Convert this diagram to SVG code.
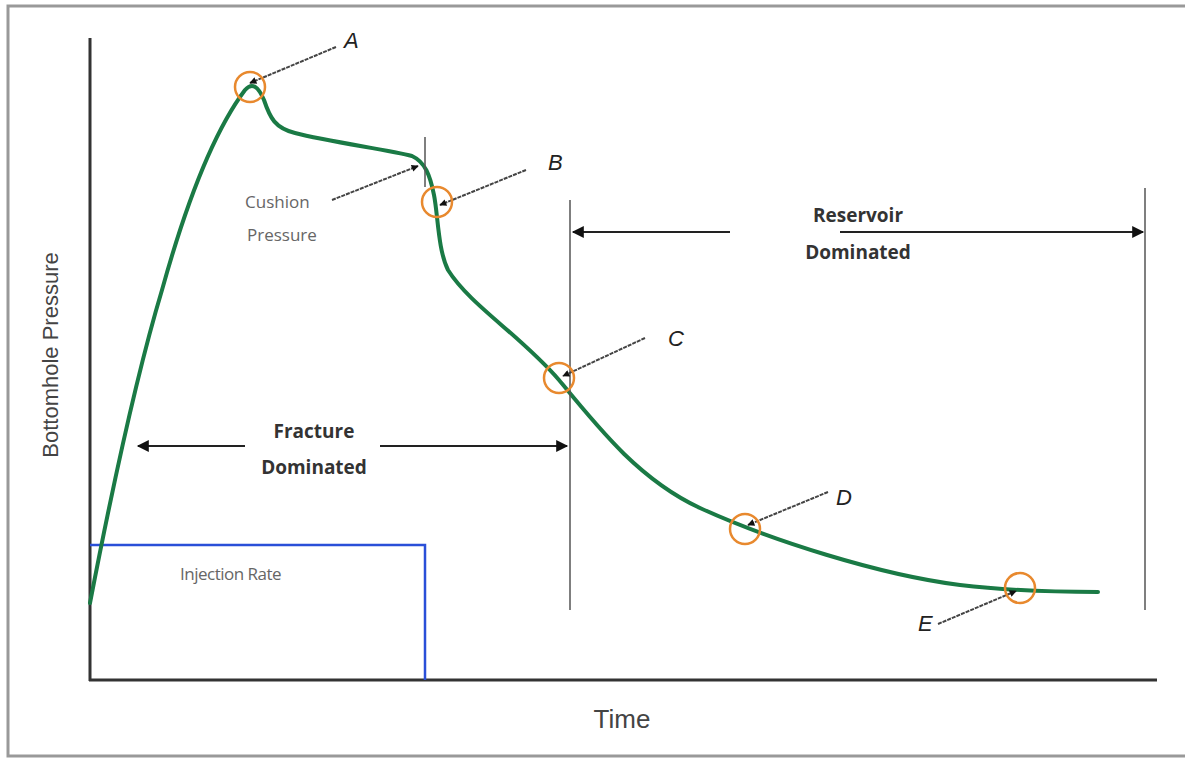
<svg xmlns="http://www.w3.org/2000/svg" width="1185" height="758" viewBox="0 0 1185 758">
<defs>
<style>
.axis{stroke:#333;stroke-width:3;fill:none}
.vline{stroke:#555;stroke-width:1.5;fill:none}
.curve{stroke:#1a7a45;stroke-width:4;fill:none;stroke-linejoin:round;stroke-linecap:round}
.mark{stroke:#e8892e;stroke-width:2.5;fill:none}
.lead{stroke:#444;stroke-width:2;stroke-dasharray:4 1;fill:none}
.dim{stroke:#222;stroke-width:2;fill:none}
.lbl{font-family:"Liberation Sans",Arial,sans-serif;font-size:22px;fill:#222;font-style:italic}
.small{font-family:"Open Sans","Liberation Sans",sans-serif;font-size:17px;fill:#666}
.bold{font-family:"Open Sans","Liberation Sans",sans-serif;font-size:19px;font-weight:bold;fill:#333;text-anchor:middle}
.ax{font-family:"Liberation Sans",Arial,sans-serif;fill:#444}
</style>
<marker id="ah" viewBox="0 0 10 10" refX="9" refY="5" markerWidth="8" markerHeight="7" orient="auto-start-reverse" markerUnits="userSpaceOnUse">
<path d="M0,0 L10,5 L0,10 z" fill="#111"/>
</marker>
<marker id="ah2" viewBox="0 0 10 10" refX="9" refY="5" markerWidth="14" markerHeight="12" orient="auto-start-reverse" markerUnits="userSpaceOnUse">
<path d="M0,0 L10,5 L0,10 z" fill="#111"/>
</marker>
</defs>
<rect x="0" y="0" width="1185" height="758" fill="#fff"/>
<rect x="8" y="6" width="1190" height="750" fill="none" stroke="#999" stroke-width="3"/>

<g id="axes">
<line class="axis" x1="90" y1="38" x2="90" y2="681"/>
<line class="axis" x1="89" y1="680" x2="1157" y2="680"/>
<text class="ax" x="622" y="728" font-size="26" text-anchor="middle">Time</text>
<text class="ax" x="0" y="0" font-size="22" text-anchor="middle" transform="translate(58,355) rotate(-90)">Bottomhole Pressure</text>
</g>

<g id="injection">
<polyline points="90,545 425,545 425,680" fill="none" stroke="#2a4fd8" stroke-width="2.5"/>
<text class="small" x="180" y="580" letter-spacing="-0.5">Injection Rate</text>
</g>

<g id="curve">
<path class="curve" d="M90,603 C107,515 132,390 162,290 C187,200 215,130 245,90 C252,82 258,86 264,100 C270,118 275,128 295,133 C330,142 390,150 412,156 C425,162 430,175 434,195 C438,215 438,250 448,270 C470,305 520,335 559,380 C600,430 640,480 700,508 C770,540 880,575 960,585 C1010,591 1060,592 1098,592"/>
<line class="vline" x1="425" y1="137" x2="425" y2="187"/>
</g>

<g id="regions">
<line class="vline" x1="570" y1="200" x2="570" y2="610"/>
<line class="vline" x1="1145" y1="188" x2="1145" y2="610"/>
</g>

<g id="connectors">
<line class="dim" x1="730" y1="232" x2="573" y2="232" marker-end="url(#ah2)"/>
<line class="dim" x1="840" y1="232" x2="1143" y2="232" marker-end="url(#ah2)"/>
<line class="dim" x1="245" y1="446" x2="138" y2="446" marker-end="url(#ah2)"/>
<line class="dim" x1="380" y1="446" x2="567" y2="446" marker-end="url(#ah2)"/>
<line class="lead" x1="336" y1="47" x2="250" y2="83" marker-end="url(#ah)"/>
<line class="lead" x1="526" y1="170" x2="440" y2="205" marker-end="url(#ah)"/>
<line class="lead" x1="645" y1="338" x2="563" y2="376" marker-end="url(#ah)"/>
<line class="lead" x1="828" y1="492" x2="748" y2="525" marker-end="url(#ah)"/>
<line class="lead" x1="938" y1="624" x2="1016" y2="591" marker-end="url(#ah)"/>
<line class="lead" x1="332" y1="200" x2="418" y2="166" marker-end="url(#ah)"/>
</g>

<g id="point-A"><circle class="mark" cx="250" cy="87" r="15"/><text class="lbl" x="344" y="48">A</text></g>
<g id="point-B"><circle class="mark" cx="437" cy="202" r="15"/><text class="lbl" x="548" y="170">B</text></g>
<g id="point-C"><circle class="mark" cx="559" cy="378" r="15"/><text class="lbl" x="668" y="346">C</text></g>
<g id="point-D"><circle class="mark" cx="745" cy="529" r="15"/><text class="lbl" x="836" y="505">D</text></g>
<g id="point-E"><circle class="mark" cx="1020" cy="588" r="15"/><text class="lbl" x="918" y="631">E</text></g>

<g id="cushion">
<text class="small" x="245" y="208">Cushion</text>
<text class="small" x="247" y="241">Pressure</text>
</g>

<g id="reservoir-label">
<text class="bold" x="858" y="222">Reservoir</text>
<text class="bold" x="858" y="259">Dominated</text>
</g>
<g id="fracture-label">
<text class="bold" x="314" y="438">Fracture</text>
<text class="bold" x="314" y="474">Dominated</text>
</g>
</svg>
